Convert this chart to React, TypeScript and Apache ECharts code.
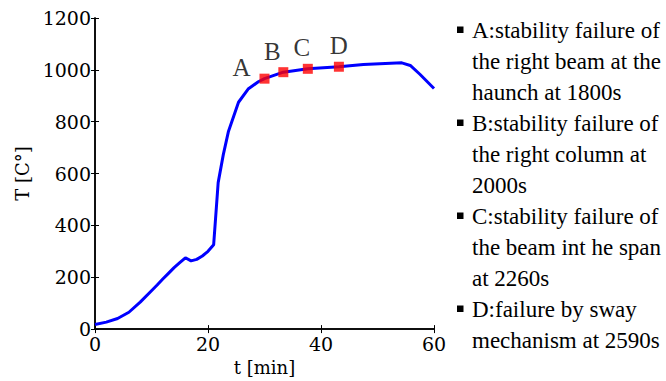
import React, { useEffect, useRef } from "react";
import * as echarts from "echarts";

// Fire curve: gas temperature against time
const timeMin = [0, 2, 4, 6, 8, 10, 11, 12, 13, 14, 15, 16, 17, 18, 19, 20, 21, 21.8, 22.7, 23.6, 25.4, 27.1, 28.9, 30, 33.33, 37.67, 43.17, 47.5, 54.3, 55.8, 57.5, 60];
const tempC = [18, 27, 41, 65, 104, 148, 170, 193, 215, 237, 256, 275, 263, 269, 282, 300, 325, 565, 672, 761, 875, 926, 954, 966, 991, 1004, 1012, 1021, 1027, 1017, 983, 928];

// Failure events
const failureNames = ["A", "B", "C", "D"];
const failureSeconds = [1800, 2000, 2260, 2590];
const failureTemps = [966, 991, 1004, 1012];

// Label placement around each marker (px, relative to marker centre)
const failureLabelOffsets = [
  [-23, -11],
  [-11, -21],
  [-6, -21],
  [0, -21],
];

// Axis ranges and ticks
const xTicks = [0, 20, 40, 60];
const yTicks = [0, 200, 400, 600, 800, 1000, 1200];

// Notes listed to the right of the plot
const failureNotes = [
  ["A:stability failure of", "the right beam at the", "haunch at 1800s"],
  ["B:stability failure of", "the right column at", "2000s"],
  ["C:stability failure of", "the beam int he span", "at 2260s"],
  ["D:failure by sway", "mechanism at 2590s"],
];

const AXIS_FONT = "DejaVu Serif";
const TEXT_FONT = "Liberation Serif";

export default function App() {
  const ref = useRef<HTMLDivElement>(null);

  useEffect(() => {
    if (!ref.current) return;
    const chart = echarts.init(ref.current, null, { renderer: "svg" });

    const curve = timeMin.map((t, i) => [t, tempC[i]]);
    const events = failureNames.map((name, i) => ({
      name,
      value: [failureSeconds[i] / 60, failureTemps[i]],
      label: { offset: failureLabelOffsets[i] },
    }));

    // Notes: bullets + wrapped lines
    const lineH = 31;
    const firstLineCenter = 30;
    const noteGraphics: any[] = [];
    let line = 0;
    failureNotes.forEach((note) => {
      const cy = firstLineCenter + line * lineH;
      noteGraphics.push({
        type: "rect",
        shape: { x: 457, y: cy - 3.5, width: 6.5, height: 6.5 },
        style: { fill: "#000" },
      });
      noteGraphics.push({
        type: "text",
        x: 472,
        y: cy - lineH / 2,
        style: {
          text: note.join("\n"),
          fontFamily: TEXT_FONT,
          fontSize: 23,
          lineHeight: lineH,
          fill: "#000",
          verticalAlign: "top",
        },
      });
      line += note.length;
    });

    const axisLine = { show: true, lineStyle: { color: "#000", width: 1.5 } };
    const tickIn = { show: true, inside: true, length: 4, lineStyle: { color: "#000", width: 1 } };
    const plain = (v: number) => String(v);

    chart.setOption({
      animation: false,
      backgroundColor: "#fff",
      grid: { left: 95, right: 232, top: 18, bottom: 48, containLabel: false },
      xAxis: [
        {
          type: "value",
          min: xTicks[0],
          max: xTicks[xTicks.length - 1],
          interval: xTicks[1] - xTicks[0],
          name: "t [min]",
          nameLocation: "middle",
          nameGap: 25,
          nameTextStyle: { fontFamily: AXIS_FONT, fontSize: 18, color: "#000" },
          axisLine,
          axisTick: tickIn,
          axisLabel: { fontFamily: AXIS_FONT, fontSize: 19, color: "#000", margin: 5, formatter: plain },
          splitLine: { show: false },
        },
        {
          type: "value",
          position: "top",
          min: xTicks[0],
          max: xTicks[xTicks.length - 1],
          interval: xTicks[1] - xTicks[0],
          axisLine,
          axisTick: tickIn,
          axisLabel: { show: false },
          splitLine: { show: false },
        },
      ],
      yAxis: [
        {
          type: "value",
          min: yTicks[0],
          max: yTicks[yTicks.length - 1],
          interval: yTicks[1] - yTicks[0],
          name: "T [C°]",
          nameLocation: "middle",
          nameGap: 63,
          nameTextStyle: { fontFamily: AXIS_FONT, fontSize: 18, color: "#000" },
          axisLine,
          axisTick: tickIn,
          axisLabel: { fontFamily: AXIS_FONT, fontSize: 19, color: "#000", margin: 4, formatter: plain },
          splitLine: { show: false },
        },
        {
          type: "value",
          position: "right",
          min: yTicks[0],
          max: yTicks[yTicks.length - 1],
          interval: yTicks[1] - yTicks[0],
          axisLine,
          axisTick: tickIn,
          axisLabel: { show: false },
          splitLine: { show: false },
        },
      ],
      series: [
        {
          type: "line",
          data: curve,
          showSymbol: false,
          smooth: false,
          lineStyle: { color: "#0000ff", width: 3 },
          z: 2,
        },
        {
          type: "scatter",
          data: events,
          symbol: "rect",
          symbolSize: 10,
          itemStyle: { color: "#ff0000" },
          label: {
            show: true,
            position: "inside",
            formatter: (p: any) => p.name,
            fontFamily: TEXT_FONT,
            fontSize: 25,
            color: "#000",
          },
          z: 3,
        },
      ],
      graphic: noteGraphics,
    });

    return () => chart.dispose();
  }, []);

  return (
    <div
      ref={ref}
      style={{ position: "fixed", left: 0, top: 0, width: 666, height: 381 }}
    />
  );
}
